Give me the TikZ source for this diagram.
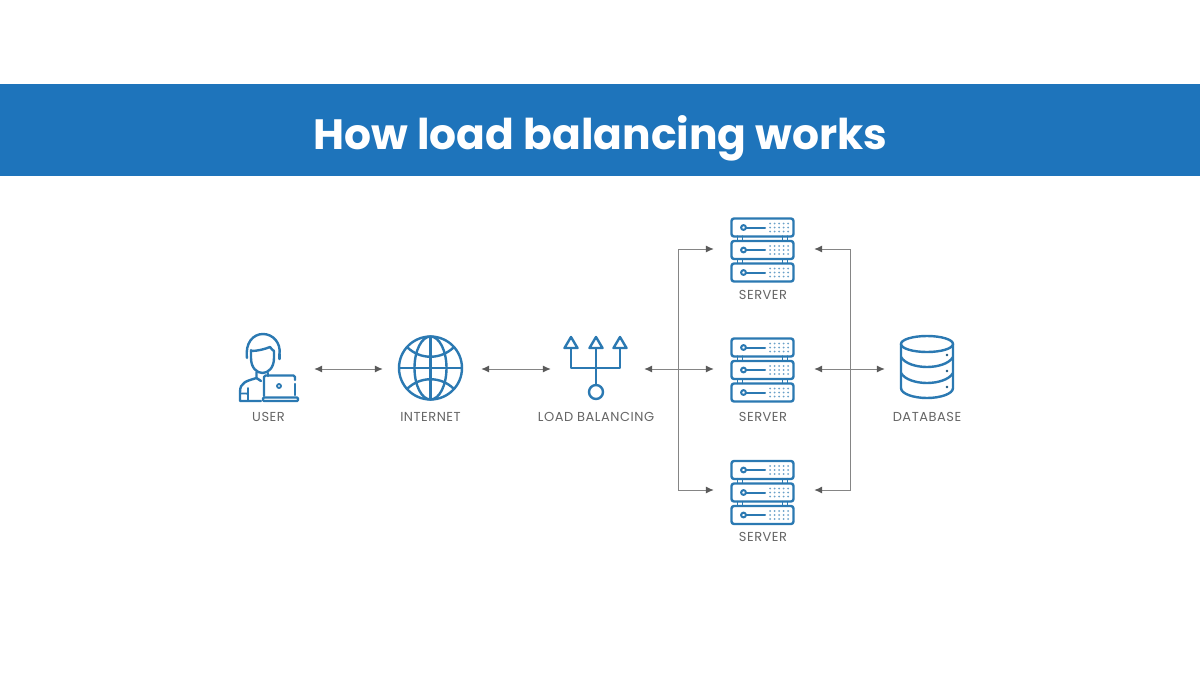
\documentclass[tikz,border=0pt]{standalone}
\usepackage{fontspec}
\setmainfont{Poppins}
\usetikzlibrary{arrows.meta}
\definecolor{bandblue}{HTML}{1E74BB}
\definecolor{iconblue}{HTML}{2B79B2}
\definecolor{linegray}{HTML}{858585}
\definecolor{headgray}{HTML}{5A5A5A}
\definecolor{labelgray}{HTML}{666666}
\tikzset{
  icon/.style={line width=2.4pt,draw=iconblue,line join=round,line cap=round},
  slot/.style={inner sep=0pt,minimum width=#1,minimum height=64pt},
  caption/.style={inner sep=0pt,text=labelgray,font=\fontsize{13}{15}\selectfont\addfontfeatures{LetterSpace=4}},
  link/.style={draw=linegray,line width=1pt},
  twoway/.style={link,{Latex[length=8pt,width=7pt,color=headgray]}-{Latex[length=8pt,width=7pt,color=headgray]}},
  oneway/.style={link,-{Latex[length=8pt,width=7pt,color=headgray]}},
  serverunit/.pic={
    \draw[icon,rounded corners=2.5pt] (-31,-9) rectangle (31,9);
    \draw[icon,line width=2pt] (-19,0) circle (2.4);
    \draw[icon,line width=2pt] (-16.5,0) -- (2.5,0);
    \foreach \dx in {7.5,12,16.5,21,25.5}
      \foreach \dy in {-4,0,4}
        \fill[iconblue!70] (\dx,\dy) circle (1);
  },
  serverrack/.pic={
    \pic at (0,-22) {serverunit};
    \pic at (0,0.5) {serverunit};
    \pic at (0,23) {serverunit};
    \foreach \cx in {-22.5,22.5}
      \foreach \cy in {-11.2,11.7}{
        \draw[icon,line width=1.5pt] (\cx-2.5,\cy-2.2) -- (\cx-2.5,\cy+2.2);
        \draw[icon,line width=1.5pt] (\cx+2.5,\cy-2.2) -- (\cx+2.5,\cy+2.2);
      }
  },
  balancertip/.pic={
    \draw[icon] (-6.5,5.5) -- (0,-5.5) -- (6.5,5.5) -- cycle;
  },
}
\begin{document}
\begin{tikzpicture}[x=1pt,y=-1pt]
\useasboundingbox (0,0) rectangle (1200,675);
\fill[white] (0,0) rectangle (1200,675);

% heading band
\node (band) [fill=bandblue,minimum width=1200pt,minimum height=92pt,inner sep=0pt] at (600,130) {};
\node (title) [inner sep=0pt,text=white,font=\fontsize{42.4}{46}\selectfont\bfseries] at (600.5,138) {How load balancing works};

% invisible slots that the connectors attach to
\node (user) [slot=61pt] at (268.5,369) {};
\node (net)  [slot=65pt] at (430.5,369) {};
\node (lb)   [slot=65pt] at (595.5,369) {};
\node (s1)   [slot=65pt] at (762.5,249) {};
\node (s2)   [slot=65pt] at (762.5,369) {};
\node (s3)   [slot=65pt] at (762.5,490) {};
\node (db)   [slot=54pt] at (927,369) {};
\coordinate (jl) at (678,369);
\coordinate (jr) at (850,369);

% user with laptop
\draw[icon] (251,350) -- (251,358) .. controls (251,368) and (257,373) .. (262.5,373)
  .. controls (268,373) and (274,368) .. (274,358) -- (274,351);
\draw[icon] (251,351) .. controls (258,351) and (265,349) .. (270,347) .. controls (271,349) and (273,350) .. (274,351);
\draw[icon] (247,358) .. controls (245,343) and (253,334) .. (263,334)
  .. controls (273,334) and (281,343) .. (279.5,354);
\draw[icon] (279.5,354) -- (279.5,359);
\draw[icon] (256.5,372) -- (256.5,378) -- (261,381);
\draw[icon] (268,373) -- (268,376);
\draw[icon] (256.5,378) .. controls (247,381) and (240,382) .. (240,392) -- (240,401) -- (261,401);
\draw[icon,line width=1.8pt] (240,393.5) -- (247,393.5) -- (248,394.5) -- (248,400);
\draw[icon,line width=1.8pt] (248,394) -- (248,388);
\draw[icon,rounded corners=1.5pt] (264,396) -- (264,375.5) -- (295,375.5) -- (295,380);
\draw[icon] (295,384) -- (295,395);
\draw[icon,rounded corners=1pt] (263,397.5) -- (298,397.5) -- (298,401) -- (263,401) -- cycle;
\draw[icon,line width=1.8pt] (279,386) circle (2);

% globe
\draw[icon] (430.5,368) circle (31.5);
\draw[icon] (430.5,368) ellipse (16 and 31.5);
\draw[icon] (430.5,336.5) -- (430.5,399.5);
\draw[icon] (399,368) -- (462,368);
\draw[icon] (407,347) .. controls (420,360) and (441,360) .. (454,347);
\draw[icon] (407,389) .. controls (420,376) and (441,376) .. (454,389);

% balancer fork
\pic at (571,342.5) {balancertip};
\pic at (596,342.5) {balancertip};
\pic at (620,342.5) {balancertip};
\draw[icon] (571,349) -- (571,368) -- (620,368) -- (620,349);
\draw[icon] (596,349) -- (596,385);
\draw[icon] (596,392) circle (7);

% server racks
\pic at (762.5,249.5) {serverrack};
\pic at (762.5,369.5) {serverrack};
\pic at (762.5,492) {serverrack};

% database cylinder
\draw[icon] (927,344) ellipse (26 and 8);
\draw[icon] (901,344) -- (901,388) .. controls (901,394) and (914,398) .. (927,398)
  .. controls (940,398) and (953,394) .. (953,388) -- (953,344);
\draw[icon] (901,357) .. controls (905,364) and (917,367) .. (927,367) .. controls (937,367) and (949,364) .. (953,357);
\draw[icon] (901,373) .. controls (905,380) and (917,383) .. (927,383) .. controls (937,383) and (949,380) .. (953,373);
\foreach \py in {355,371,387} \fill[iconblue!70!black] (947,\py) circle (1.3);

% captions
\node (cuser) [caption] at (268.5,417) {USER};
\node (cnet)  [caption] at (430.5,417) {INTERNET};
\node (clb)   [caption] at (596,417) {LOAD BALANCING};
\node (cs1)   [caption] at (763,295) {SERVER};
\node (cs2)   [caption] at (763,417) {SERVER};
\node (cs3)   [caption] at (763,537) {SERVER};
\node (cdb)   [caption] at (927,417) {DATABASE};

% connectors
\draw[twoway,shorten <=15pt,shorten >=15pt] (user.east) -- (net.west);
\draw[twoway,shorten <=18pt,shorten >=12pt] (net.east) -- (lb.west);
\draw[twoway,shorten <=16pt,shorten >=16pt] (lb.east) -- (s2.west);
\draw[twoway,shorten <=19pt,shorten >=15pt] (s2.east) -- (db.west);
\draw[oneway,shorten >=16pt] (jl) |- (s1.west);
\draw[oneway,shorten >=16pt] (jl) |- (s3.west);
\draw[oneway,shorten >=19pt] (jr) |- (s1.east);
\draw[oneway,shorten >=19pt] (jr) |- (s3.east);
\end{tikzpicture}
\end{document}
